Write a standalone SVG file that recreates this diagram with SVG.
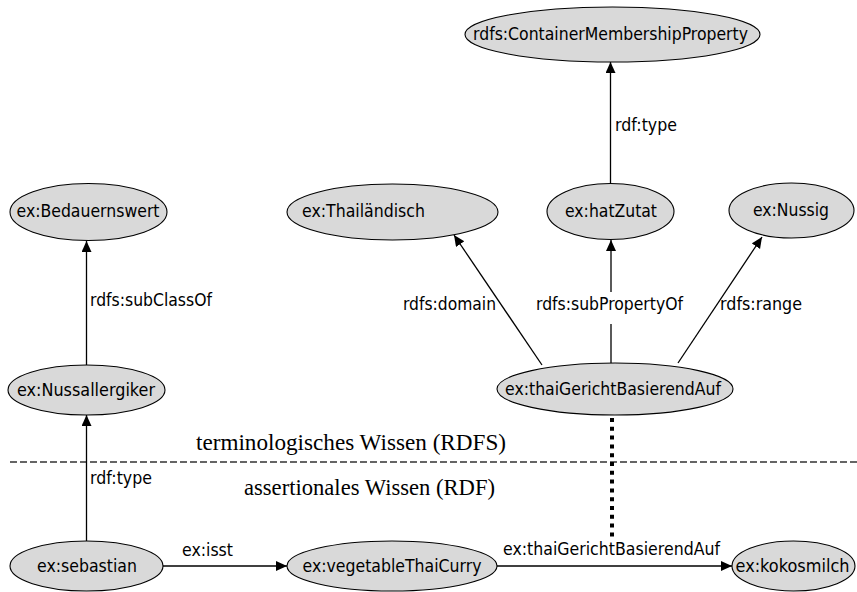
<svg xmlns="http://www.w3.org/2000/svg" width="857" height="592" viewBox="0 0 857 592">
<style>
.node ellipse{fill:#d9d9d9;stroke:#000;stroke-width:1.1}
.node text{font-family:"DejaVu Sans",sans-serif;font-size:18.5px;fill:#000;text-anchor:middle}
.lbl{font-family:"DejaVu Sans",sans-serif;font-size:18.5px;fill:#000}
.edge{stroke:#000;stroke-width:1.3;fill:none;marker-end:url(#arr)}
.sec{font-family:"Liberation Serif","Times New Roman",serif;font-size:23px;fill:#000}
</style>
<defs>
<marker id="arr" markerUnits="userSpaceOnUse" markerWidth="12" markerHeight="11" refX="11" refY="5" orient="auto">
<path d="M0,0 L11,5 L0,10 z" fill="#000"/>
</marker>
</defs>
<rect width="857" height="592" fill="#fff"/>
<line x1="10" y1="462" x2="857" y2="462" stroke="#333" stroke-width="1.3" stroke-dasharray="7 3"/>
<text class="sec" x="196" y="450" textLength="310" lengthAdjust="spacingAndGlyphs">terminologisches Wissen (RDFS)</text>
<text class="sec" x="244" y="495" textLength="251" lengthAdjust="spacingAndGlyphs">assertionales Wissen (RDF)</text>
<g id="connectors">
<line class="edge" x1="86.5" y1="365" x2="86.5" y2="241"/>
<line class="edge" x1="86.5" y1="541" x2="86.5" y2="415"/>
<line class="edge" x1="163" y1="566" x2="287" y2="566"/>
<line class="edge" x1="497" y1="566" x2="732" y2="566"/>
<line class="edge" x1="610.5" y1="183" x2="610.5" y2="62"/>
<line class="edge" x1="542" y1="365" x2="454" y2="235"/>
<line class="edge" x1="611" y1="363" x2="611" y2="240"/>
<line class="edge" x1="678" y1="363" x2="762" y2="237"/>
<line x1="612" y1="418" x2="612" y2="538" stroke="#000" stroke-width="4" stroke-dasharray="4 4.8"/>
<text class="lbl" x="90" y="306" textLength="122" lengthAdjust="spacingAndGlyphs">rdfs:subClassOf</text>
<text class="lbl" x="90" y="484" textLength="62" lengthAdjust="spacingAndGlyphs">rdf:type</text>
<text class="lbl" x="182" y="556" textLength="51" lengthAdjust="spacingAndGlyphs">ex:isst</text>
<text class="lbl" x="503" y="555" textLength="217" lengthAdjust="spacingAndGlyphs">ex:thaiGerichtBasierendAuf</text>
<text class="lbl" x="615" y="131" textLength="62" lengthAdjust="spacingAndGlyphs">rdf:type</text>
<text class="lbl" x="403" y="310" textLength="93" lengthAdjust="spacingAndGlyphs">rdfs:domain</text>
<rect x="600" y="292" width="22" height="32" fill="#fff"/>
<text class="lbl" x="536" y="310" textLength="147" lengthAdjust="spacingAndGlyphs">rdfs:subPropertyOf</text>
<text class="lbl" x="720" y="310" textLength="82" lengthAdjust="spacingAndGlyphs">rdfs:range</text>
</g>
<g id="n_container" class="node"><ellipse cx="612.5" cy="34.5" rx="147.5" ry="27.5"/><text x="610.5" y="40" textLength="275" lengthAdjust="spacingAndGlyphs">rdfs:ContainerMembershipProperty</text></g>
<g id="n_bedauernswert" class="node"><ellipse cx="88.5" cy="212" rx="78.5" ry="28.5"/><text x="88" y="217" textLength="143" lengthAdjust="spacingAndGlyphs">ex:Bedauernswert</text></g>
<g id="n_thailaendisch" class="node"><ellipse cx="392.5" cy="212" rx="105.5" ry="28"/><text x="363.5" y="217" textLength="123" lengthAdjust="spacingAndGlyphs">ex:Thailändisch</text></g>
<g id="n_hatzutat" class="node"><ellipse cx="610.5" cy="211.5" rx="63.5" ry="28"/><text x="611" y="216.5" textLength="92" lengthAdjust="spacingAndGlyphs">ex:hatZutat</text></g>
<g id="n_nussig" class="node"><ellipse cx="791.5" cy="210.5" rx="62.5" ry="27.5"/><text x="791" y="216" textLength="76" lengthAdjust="spacingAndGlyphs">ex:Nussig</text></g>
<g id="n_nussallergiker" class="node"><ellipse cx="86.5" cy="390" rx="78.5" ry="25"/><text x="86" y="395.5" textLength="138" lengthAdjust="spacingAndGlyphs">ex:Nussallergiker</text></g>
<g id="n_thaigericht" class="node"><ellipse cx="615" cy="389" rx="118" ry="26"/><text x="613" y="394.5" textLength="216" lengthAdjust="spacingAndGlyphs">ex:thaiGerichtBasierendAuf</text></g>
<g id="n_sebastian" class="node"><ellipse cx="86.5" cy="566" rx="76.5" ry="25"/><text x="87" y="571.5" textLength="100" lengthAdjust="spacingAndGlyphs">ex:sebastian</text></g>
<g id="n_curry" class="node"><ellipse cx="392" cy="566" rx="105" ry="25"/><text x="392" y="571.5" textLength="179" lengthAdjust="spacingAndGlyphs">ex:vegetableThaiCurry</text></g>
<g id="n_kokosmilch" class="node"><ellipse cx="793.5" cy="566" rx="61.5" ry="25"/><text x="792.5" y="571.5" textLength="114" lengthAdjust="spacingAndGlyphs">ex:kokosmilch</text></g>
</svg>
